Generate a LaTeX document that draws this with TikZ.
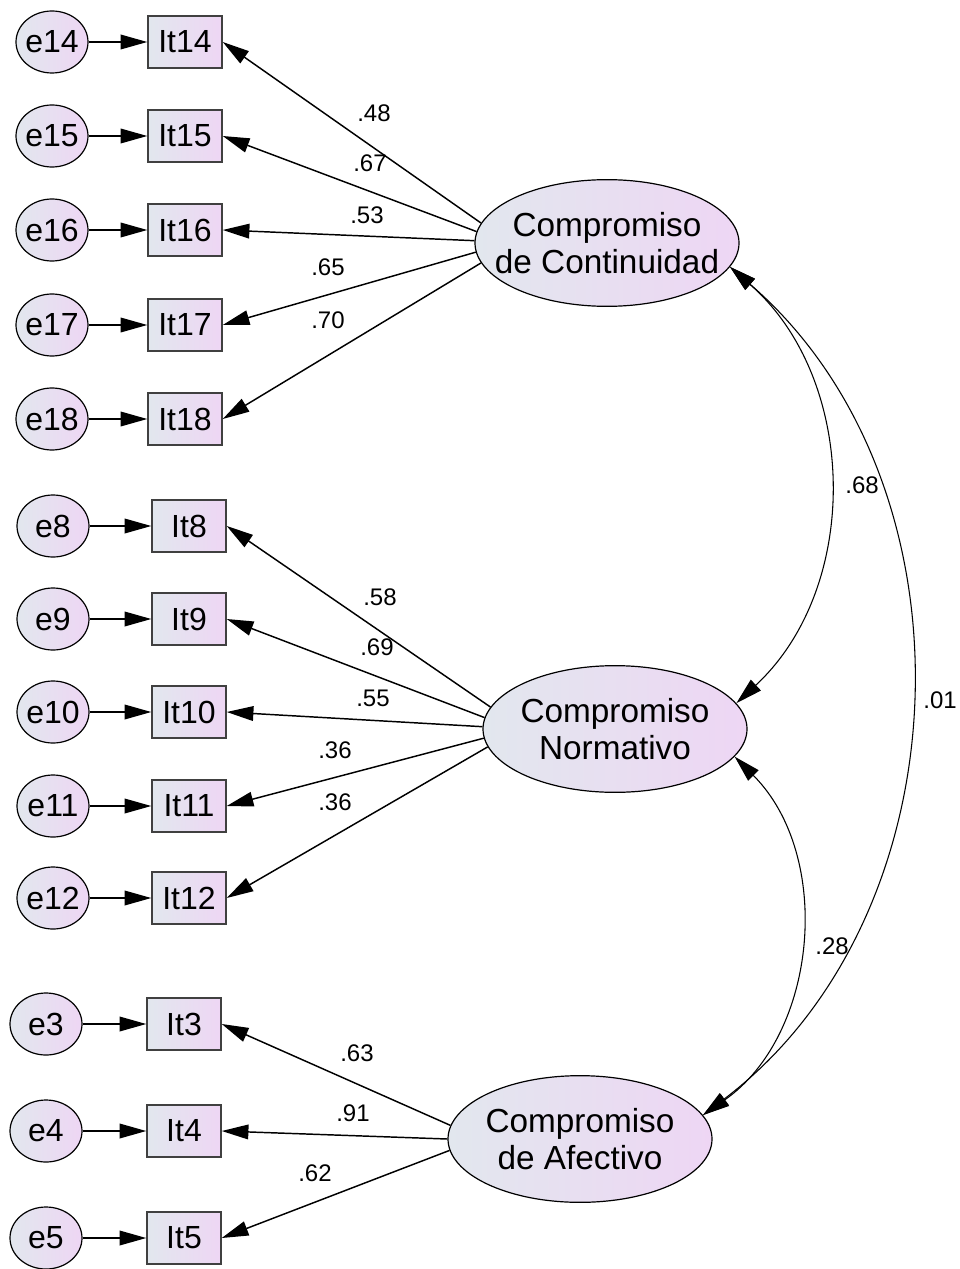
\documentclass[tikz,border=0pt]{standalone}
\usepackage{fontspec}
\setmainfont{Liberation Sans}
\usetikzlibrary{shapes.geometric,arrows.meta}
\definecolor{fillleft}{RGB}{226,231,238}
\definecolor{fillright}{RGB}{238,214,244}
\tikzset{
    errnode/.style={
        ellipse, draw, line width=0.9pt,
        left color=fillleft, right color=fillright,
        minimum width=54pt, minimum height=46.5pt,
        inner xsep=-6pt, inner ysep=0pt,
        font=\fontsize{24}{27}\selectfont,
    },
    itembox/.style={
        rectangle, draw=black!75, line width=1.1pt,
        left color=fillleft, right color=fillright,
        minimum width=55.5pt, minimum height=39pt, inner sep=0pt,
        font=\fontsize{24}{27}\selectfont,
    },
    factor/.style={
        ellipse, draw, line width=0.9pt,
        left color=fillleft, right color=fillright,
        minimum width=198pt, minimum height=95pt,
        inner xsep=-20pt, inner ysep=0pt,
        align=center, font=\fontsize{25}{28}\selectfont,
    },
    lbl/.style={inner sep=0pt, font=\fontsize{18}{20}\selectfont},
    loadarrow/.style={-{Triangle[length=20pt,width=11pt]}, line width=1.1pt},
    covarrow/.style={{Triangle[length=20pt,width=11pt]}-{Triangle[length=20pt,width=11pt]}, line width=0.8pt},
}
\begin{document}
\begin{tikzpicture}[x=0.75pt,y=0.75pt]
    \useasboundingbox (0,0) rectangle (959,-1269);
    % indicators with their errors
    \foreach \n/\y in {14/42,15/136,16/230,17/325,18/419} {
        \node[errnode] (e\n) at (52,-\y) {e\n};
        \node[itembox] (It\n) at (185,-\y) {It\n};
        \draw[loadarrow] (e\n) -- (It\n);
    }
    \foreach \n/\y in {8/526,9/619,10/712,11/806,12/898} {
        \node[errnode] (e\n) at (53,-\y) {e\n};
        \node[itembox] (It\n) at (189,-\y) {It\n};
        \draw[loadarrow] (e\n) -- (It\n);
    }
    \foreach \n/\y in {3/1024,4/1131,5/1238} {
        \node[errnode] (e\n) at (46,-\y) {e\n};
        \node[itembox] (It\n) at (184,-\y) {It\n};
        \draw[loadarrow] (e\n) -- (It\n);
    }
    % factors
    \node[factor] (CC) at (607,-243) {Compromiso\\de Continuidad};
    \node[factor] (CN) at (615,-729) {Compromiso\\Normativo};
    \node[factor] (CA) at (580,-1139) {Compromiso\\de Afectivo};
    % loadings
    \foreach \n/\a in {14/171,15/175,16/179,17/184,18/189}
        \draw[loadarrow] (CC.\a) -- (It\n.east);
    \foreach \n/\a in {8/170,9/175,10/179,11/184,12/188}
        \draw[loadarrow] (CN.\a) -- (It\n.east);
    \foreach \n/\a in {3/174,4/180,5/185}
        \draw[loadarrow] (CA.\a) -- (It\n.east);
    \foreach \n/\x/\y/\v in {14/374/113/.48,15/370/163/.67,16/367/215/.53,17/328/267/.65,18/328/320/.70,
                             8/380/597/.58,9/377/647/.69,10/373/698/.55,11/335/750/.36,12/335/802/.36,
                             3/357/1053/.63,4/353/1113/.91,5/315/1173/.62}
        \node[lbl] (l\n) at (\x,-\y) {\v};
    % covariances
    \draw[covarrow] (CC.-11.5) to[bend left=48] (CN.12);
    \draw[covarrow] (CC.-11.5) to[bend left=51] (CA.11);
    \draw[covarrow] (CN.-13) to[bend left=50] (CA.11);
    \node[lbl] (lCCCN) at (862,-485) {.68};
    \node[lbl] (lCCCA) at (940,-700) {.01};
    \node[lbl] (lCNCA) at (832,-946) {.28};
\end{tikzpicture}
\end{document}
